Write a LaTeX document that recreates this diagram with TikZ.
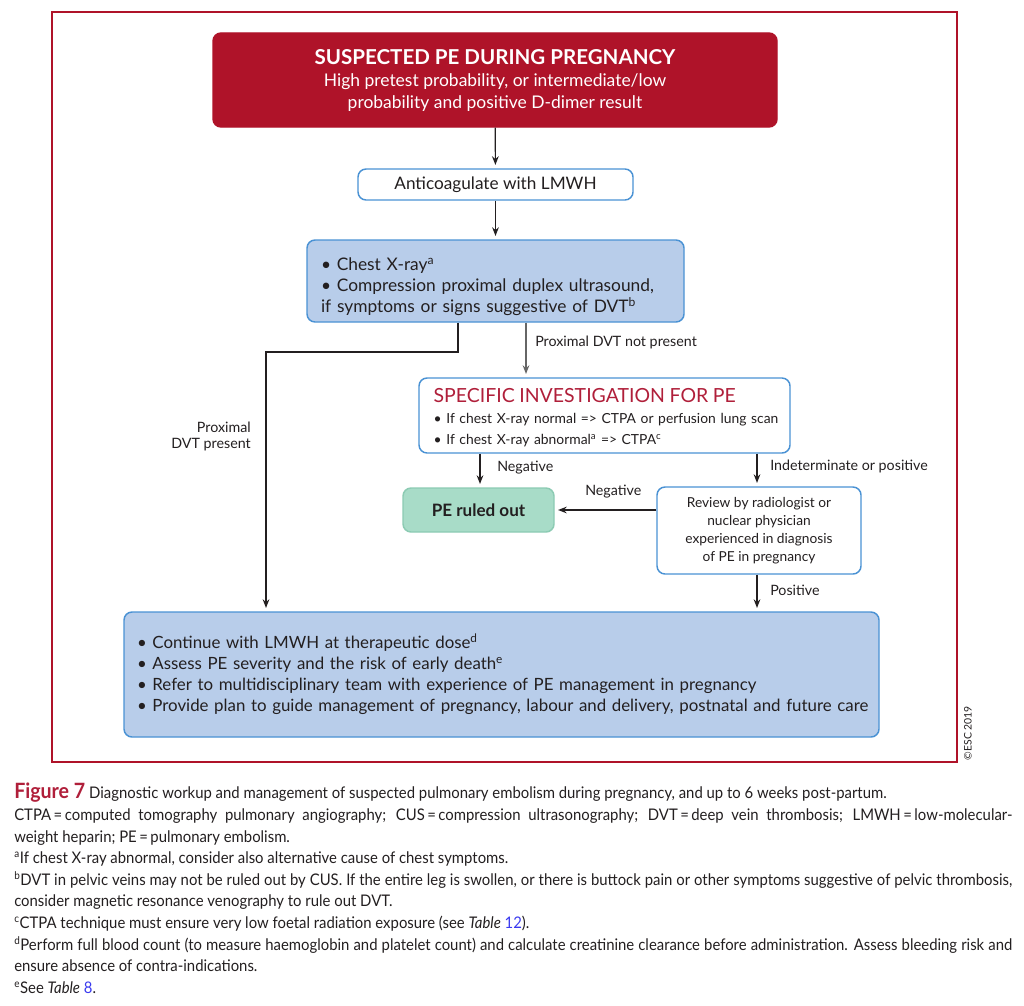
\documentclass[tikz,border=0pt]{standalone}
\usepackage{graphicx}
\usepackage{fontspec}
\setmainfont{Lato}
\usetikzlibrary{arrows.meta}
\definecolor{escred}{HTML}{AF1329}
\definecolor{titlered}{HTML}{B01F3A}
\definecolor{boxblue}{HTML}{4A92D4}
\definecolor{fillblue}{HTML}{B8CDEA}
\definecolor{mint}{HTML}{A8DCC8}
\definecolor{mintline}{HTML}{8CCBB3}
\definecolor{linkblue}{HTML}{3B3BF0}
\definecolor{txt}{HTML}{231F20}
\tikzset{
  box/.style={draw=boxblue, line width=1.1pt, rounded corners=6pt, inner sep=0pt, text=txt},
  arr/.style={-{Stealth[length=6.5pt,width=5pt]}, line width=0.9pt, shorten >=2.5pt, draw=txt},
  lbl/.style={font=\fontsize{10.7pt}{12.5pt}\selectfont, inner sep=0pt, text=txt},
}
\begin{document}
\begin{tikzpicture}[x=0.75pt,y=-0.75pt]
\useasboundingbox (0,0) rectangle (1024,1006);
\fill[white] (0,0) rectangle (1024,1006);
% frame
\draw[escred, line width=1.9pt] (52,12) rectangle (957,762);

% nodes
\node[box, draw=escred, fill=escred, text=white, minimum width=423pt, minimum height=70.5pt, align=center,
      font=\fontsize{13.1pt}{16.5pt}\selectfont] (top) at (495,80)
  {{\bfseries\fontsize{15.4pt}{17pt}\selectfont SUSPECTED PE DURING PREGNANCY}\\[0pt]
   High pretest probability, or intermediate/low\\
   probability and positive D-dimer result};

\node[box, fill=white, minimum width=206.25pt, minimum height=23.25pt,
      font=\fontsize{12.9pt}{15pt}\selectfont] (anti) at (495.5,184.5) {Anticoagulate with LMWH};

\node[box, fill=fillblue, minimum width=282.75pt, minimum height=61.5pt, inner xsep=10.5pt,
      text width=261.75pt, align=left, font=\fontsize{13pt}{15.75pt}\selectfont] (chest) at (495.5,281)
  {\rule{0pt}{18.5pt}\textbullet\ Chest X-ray\textsuperscript{a}\\
   \mbox{\textbullet\ Compression proximal duplex ultrasound,}\\
   \mbox{if symptoms or signs suggestive of DVT\textsuperscript{b}}};

\node[box, fill=white, minimum width=278.25pt, minimum height=56.25pt, inner xsep=11pt,
      text width=256.25pt, align=left, font=\fontsize{10.4pt}{15.75pt}\selectfont] (spec) at (604.5,415.5)
  {\rule{0pt}{13.5pt}\mbox{\color{titlered}\fontsize{14.6pt}{17pt}\selectfont SPECIFIC INVESTIGATION FOR PE}\\[0pt]
   \mbox{\textbullet\ If chest X-ray normal => CTPA or perfusion lung scan}\\
   \mbox{\textbullet\ If chest X-ray abnormal\textsuperscript{a} => CTPA\textsuperscript{c}}};

\node[box, draw=mintline, fill=mint, minimum width=113.25pt, minimum height=33pt,
      font=\fontsize{12.8pt}{14pt}\selectfont\bfseries] (ruled) at (478.5,510) {PE ruled out};

\node[box, fill=white, minimum width=153pt, minimum height=65.25pt, align=center,
      font=\fontsize{10.3pt}{13.5pt}\selectfont] (review) at (759,530.5)
  {Review by radiologist or\\ nuclear physician\\ experienced in diagnosis\\ of PE in pregnancy};

\node[box, fill=fillblue, minimum width=566.25pt, minimum height=93.75pt, inner xsep=9.75pt,
      text width=546.75pt, align=left, font=\fontsize{12.65pt}{15.75pt}\selectfont] (bottom) at (501.5,674.5)
  {\mbox{\textbullet\ Continue with LMWH at therapeutic dose\textsuperscript{d}}\\
   \mbox{\textbullet\ Assess PE severity and the risk of early death\textsuperscript{e}}\\
   \mbox{\textbullet\ Refer to multidisciplinary team with experience of PE management in pregnancy}\\
   \mbox{\textbullet\ Provide plan to guide management of pregnancy, labour and delivery, postnatal and future care}};

% helper coordinates
\coordinate (xL) at (458,0);
\coordinate (bendL) at (266,352);
\coordinate (xR) at (526,0);
\coordinate (xN) at (480,0);
\coordinate (xI) at (757,0);

% connectors
\draw[arr] (top) -- (anti);
\draw[arr] (anti) -- (chest);
\draw[arr] (chest.south -| xL) -- (xL |- bendL) -- (bendL) -- (bendL |- bottom.north);
\draw[arr, draw=black!60] (chest.south -| xR) -- (xR |- spec.north);
\draw[arr] (spec.south -| xN) -- (xN |- ruled.north);
\draw[arr] (spec.south -| xI) -- (xI |- review.north);
\draw[arr] (ruled.east -| review.west) -- (ruled.east);
\draw[arr] (review.south -| xI) -- (xI |- bottom.north);

% labels
\node[lbl, anchor=west] (lnot) at (535,342) {Proximal DVT not present};
\node[lbl, anchor=east, align=right] (lpres) at (251,436.5) {Proximal\\ DVT present};
\node[lbl, anchor=west] (lneg1) at (497,468) {Negative};
\node[lbl, anchor=west] (lind) at (770,466) {Indeterminate or positive};
\node[lbl, anchor=west] (lneg2) at (585,492) {Negative};
\node[lbl, anchor=west] (lpos) at (770,590) {Positive};

% copyright
\node[rotate=90, inner sep=0pt, text=txt, font=\fontsize{7.8pt}{9pt}\selectfont] (copy) at (968,733) {\textcopyright ESC 2019};

% caption
\node[anchor=north west, inner sep=0pt, text=txt] (caption) at (14,783)
  {\scalebox{0.93}[1]{\parbox[t]{804.8pt}{\fontsize{12pt}{16.2pt}\selectfont
   {\color{titlered}\bfseries\fontsize{15.8pt}{16.2pt}\selectfont Figure 7} Diagnostic workup and management of suspected pulmonary embolism during pregnancy, and up to 6 weeks post-partum.\newline
   CTPA\,=\,computed tomography pulmonary angiography; CUS\,=\,compression ultrasonography; DVT\,=\,deep vein thrombosis; LMWH\,=\,low-molecular-\linebreak
   weight heparin; PE\,=\,pulmonary embolism.\newline
   \textsuperscript{a}If chest X-ray abnormal, consider also alternative cause of chest symptoms.\newline
   \textsuperscript{b}DVT in pelvic veins may not be ruled out by CUS. If the entire leg is swollen, or there is buttock pain or other symptoms suggestive of pelvic thrombosis,\linebreak
   consider magnetic resonance venography to rule out DVT.\newline
   \textsuperscript{c}CTPA technique must ensure very low foetal radiation exposure (see \textit{Table} {\color{linkblue}12}).\newline
   \textsuperscript{d}Perform full blood count (to measure haemoglobin and platelet count) and calculate creatinine clearance before administration. Assess bleeding risk and\linebreak
   ensure absence of contra-indications.\newline
   \textsuperscript{e}See \textit{Table} {\color{linkblue}8}.}}};
\end{tikzpicture}
\end{document}
